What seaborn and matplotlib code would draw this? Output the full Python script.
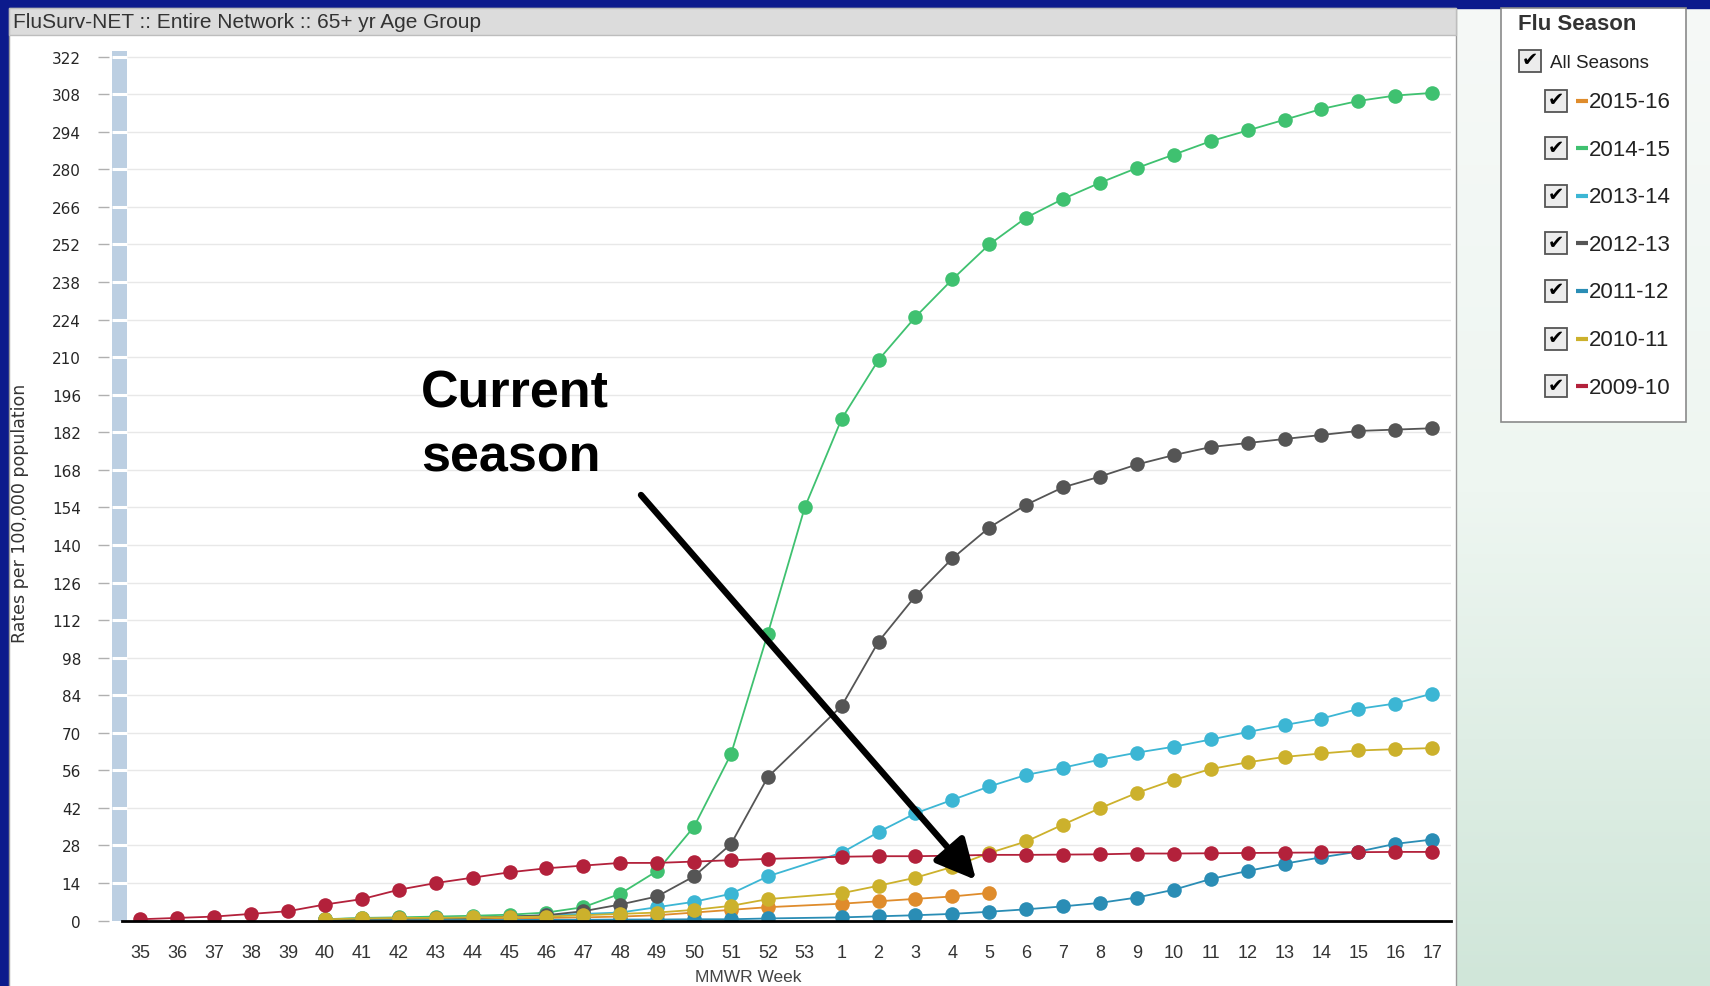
import numpy as np
import pandas as pd
import matplotlib
matplotlib.use("Agg")
import matplotlib.pyplot as plt
import seaborn as sns
from matplotlib import font_manager
from matplotlib.patches import Rectangle
from matplotlib.colors import LinearSegmentedColormap

nan = np.nan

# MMWR weeks shown on the x axis (season runs week 35 -> week 17)
weeks = list(range(35, 54)) + list(range(1, 18))

seasons = ["2015-16", "2014-15", "2013-14", "2012-13", "2011-12", "2010-11", "2009-10"]
colors = ["#df8c2c", "#3fc170", "#3cb6d4", "#555555", "#2a8db5", "#ccb12c", "#b3213b"]

#                 35  36  37  38  39  40   41   42   43   44   45   46   47   48   49   50   51   52   53
rate_2015_16 = [nan, nan, nan, nan, nan, 0.2, 0.3, 0.5, 0.5, 0.6, 0.8, 1.0, 1.2, 1.5, 2.0, 3.0, 4.0, 5.0, nan,
                6.3, 7.2, 8.1, 9.0, 10.3] + [nan] * 12
rate_2014_15 = [nan, nan, nan, nan, nan, 0.5, 1.0, 1.2, 1.5, 1.8, 2.2, 3.0, 5.0, 10.0, 18.5, 35.0, 62.0, 107.0, 154.0,
                187.0, 209.0, 225.0, 239.0, 252.0, 262.0, 269.0, 275.0, 280.5, 285.5, 290.5, 294.5, 298.5, 302.5,
                305.5, 307.5, 308.5]
rate_2013_14 = [nan, nan, nan, nan, nan, 0.5, 0.8, 1.0, 1.0, 1.2, 1.5, 2.0, 2.5, 3.0, 5.0, 7.0, 10.0, 16.5, nan,
                25.3, 33.0, 40.0, 45.0, 50.0, 54.3, 57.0, 60.0, 62.6, 64.8, 67.5, 70.3, 72.9, 75.3, 78.9, 80.9, 84.6]
rate_2012_13 = [nan, nan, nan, nan, nan, 0.3, 0.5, 0.8, 1.0, 1.0, 1.5, 2.0, 3.5, 6.0, 9.0, 16.5, 28.5, 53.5, nan,
                80.0, 104.0, 121.0, 135.0, 146.5, 155.0, 161.5, 165.5, 170.0, 173.5, 176.5, 178.0, 179.5, 181.0,
                182.5, 183.0, 183.5]
rate_2011_12 = [nan, nan, nan, nan, nan, 0.1, 0.1, 0.1, 0.2, 0.2, 0.2, 0.3, 0.3, 0.4, 0.4, 0.5, 0.5, 0.8, nan,
                1.2, 1.6, 2.0, 2.5, 3.3, 4.2, 5.3, 6.6, 8.6, 11.5, 15.5, 18.5, 21.2, 23.6, 25.7, 28.6, 30.2]
rate_2010_11 = [nan, nan, nan, nan, nan, 0.5, 0.8, 1.0, 1.0, 1.2, 1.3, 1.5, 2.0, 2.5, 3.0, 4.0, 5.5, 8.0, nan,
                10.2, 13.0, 16.0, 20.0, 25.2, 29.5, 35.8, 41.9, 47.6, 52.4, 56.5, 59.0, 61.0, 62.3, 63.4, 63.9, 64.3]
rate_2009_10 = [0.5, 1.0, 1.5, 2.5, 3.5, 6.0, 8.0, 11.5, 14.0, 16.0, 18.0, 19.5, 20.5, 21.5, 21.5, 22.0, 22.5, 23.0, nan,
                23.8, 24.0, 24.0, 24.2, 24.5, 24.5, 24.6, 24.7, 25.0, 25.0, 25.1, 25.2, 25.3, 25.4, 25.5, 25.6, 25.6]

y_ticks = list(range(0, 323, 14))

season_rates = dict(zip(seasons, [rate_2015_16, rate_2014_15, rate_2013_14, rate_2012_13,
                                  rate_2011_12, rate_2010_11, rate_2009_10]))
palette = dict(zip(seasons, colors))

# long-form table for seaborn; x is the position of the week on the categorical axis
frames = []
for s in seasons:
    frames.append(pd.DataFrame({"pos": np.arange(len(weeks)), "week": weeks,
                                "rate": season_rates[s], "season": s}))
df = pd.concat(frames).dropna(subset=["rate"])

sns.set_theme(style="white")
names = {f.name for f in font_manager.fontManager.ttflist}
narrow = "Liberation Sans Narrow" if "Liberation Sans Narrow" in names else "Liberation Sans"
plt.rcParams["font.family"] = ["DejaVu Sans"]

W, H = 1710, 987
fig = plt.figure(figsize=(W / 100, H / 100), dpi=100)

# ---- slide background + panels (pixel coords, y down)
bg = fig.add_axes([0, 0, 1, 1], zorder=-10)
bg.set_xlim(0, W)
bg.set_ylim(H, 0)
bg.axis("off")
grad = LinearSegmentedColormap.from_list("mint", ["#f6f9f7", "#eef6f1", "#d0e6d9"])
bg.imshow(np.linspace(0, 1, 256)[:, None], cmap=grad, aspect="auto", extent=[0, W, H, 0])
bg.add_patch(Rectangle((0, 0), W, 9, color="#0c1a8c"))
bg.add_patch(Rectangle((0, 0), 9, H, color="#0c1a8c"))
bg.add_patch(Rectangle((9, 9), 1447, H, facecolor="white", edgecolor="#9a9a9a", lw=1))
bg.add_patch(Rectangle((9, 9), 1447, 27, facecolor="#dcdcdc", edgecolor="#bdbdbd", lw=1))
bg.text(13, 22, "FluSurv-NET :: Entire Network :: 65+ yr Age Group", family=narrow,
        fontsize=15, color="#333333", va="center", ha="left")

# ---- legend panel
bg.add_patch(Rectangle((1501, 9), 185, 414, facecolor="white", edgecolor="#8a8a8a", lw=1.2))
bg.text(1518, 24, "Flu Season", family=narrow, fontweight="bold", fontsize=16,
        color="#333333", va="center", ha="left")


def checkbox(x, y):
    bg.add_patch(Rectangle((x, y - 11), 22, 22, facecolor="#ececec", edgecolor="#555555", lw=1.3))
    bg.text(x + 11, y - 1, "\u2714", fontsize=14, color="black", ha="center", va="center")


checkbox(1519, 62)
bg.text(1550, 63, "All Seasons", family="Liberation Sans", fontsize=13.5, color="#222222",
        va="center", ha="left")
for i, s in enumerate(seasons):
    yc = 101.5 + i * 47.6
    checkbox(1545, yc)
    bg.plot([1576, 1588], [yc, yc], color=palette[s], lw=3, solid_capstyle="butt")
    bg.text(1589, yc + 1, s, family="Liberation Sans", fontsize=16, color="#222222",
            va="center", ha="left")

# ---- main chart
ax = fig.add_axes([122 / W, 1 - 921.6 / H, (1450.6 - 122) / W, (921.6 - 52.3) / H])
ax.patch.set_alpha(0)

sns.lineplot(data=df, x="pos", y="rate", hue="season", hue_order=seasons, palette=palette,
             marker="o", markersize=10.5, markeredgewidth=0, linewidth=1.3, errorbar=None,
             legend=False, ax=ax)

ax.set_xlim(-0.5, len(weeks) - 0.5)
ax.set_ylim(0, 324)
ax.set_yticks(y_ticks)
ax.set_yticklabels([str(v) for v in y_ticks], fontsize=13.5, color="#333333")
ax.set_xticks(np.arange(len(weeks)))
ax.set_xticklabels([str(w) for w in weeks], family=narrow, fontsize=13, color="#333333")
ax.set_xticks(np.arange(len(weeks) + 1) - 0.5, minor=True)
ax.tick_params(axis="x", which="major", length=0, pad=17)
ax.tick_params(axis="x", which="minor", length=6, width=1, color="#9aa38a", direction="out")
ax.tick_params(axis="y", length=8, width=1, color="#b0b0b0", pad=12, direction="out", left=True)
ax.yaxis.grid(True, color="#e8e8e8", lw=1)
ax.set_axisbelow(True)
for side in ["top", "right"]:
    ax.spines[side].set_visible(False)
ax.spines["left"].set_position(("outward", 9.5))
ax.spines["left"].set_color("none")
ax.spines["bottom"].set_color("black")
ax.spines["bottom"].set_linewidth(2)
ax.set_xlabel("")
ax.set_ylabel("")

# light blue range bar left of the plot, split at every gridline
yax = ax.get_yaxis_transform()
ax.add_patch(Rectangle((-0.0075, 0), 0.011, 324, transform=yax, facecolor="#bccfe2",
                       edgecolor="none", clip_on=False, zorder=0))
ax.hlines(y_ticks[1:], -0.0075, 0.0035, transform=yax, colors="white", lw=2.2, clip_on=False, zorder=1)

fig.text(748 / W, 1 - 978 / H, "MMWR Week", family=narrow, fontsize=12.5, color="#444444",
         ha="center", va="center")
fig.text(20 / W, 1 - 513 / H, "Rates per 100,000 population", fontsize=12.5, color="#333333",
         rotation=90, ha="center", va="center")

# ---- annotation
fig.text(421 / W, 1 - 408 / H, "Current", family="Liberation Sans", fontweight="bold",
         fontsize=37.5, color="black", ha="left", va="baseline")
fig.text(421 / W, 1 - 472 / H, "season", family="Liberation Sans", fontweight="bold",
         fontsize=37.5, color="black", ha="left", va="baseline")
ax.annotate("", xy=(976, H - 881), xytext=(641, H - 496), xycoords="figure pixels",
            textcoords="figure pixels",
            arrowprops=dict(arrowstyle="-|>,head_length=1.1,head_width=0.55", lw=4.6,
                            color="black", mutation_scale=22, shrinkA=0, shrinkB=0))

fig.savefig("out.png", dpi=100)
